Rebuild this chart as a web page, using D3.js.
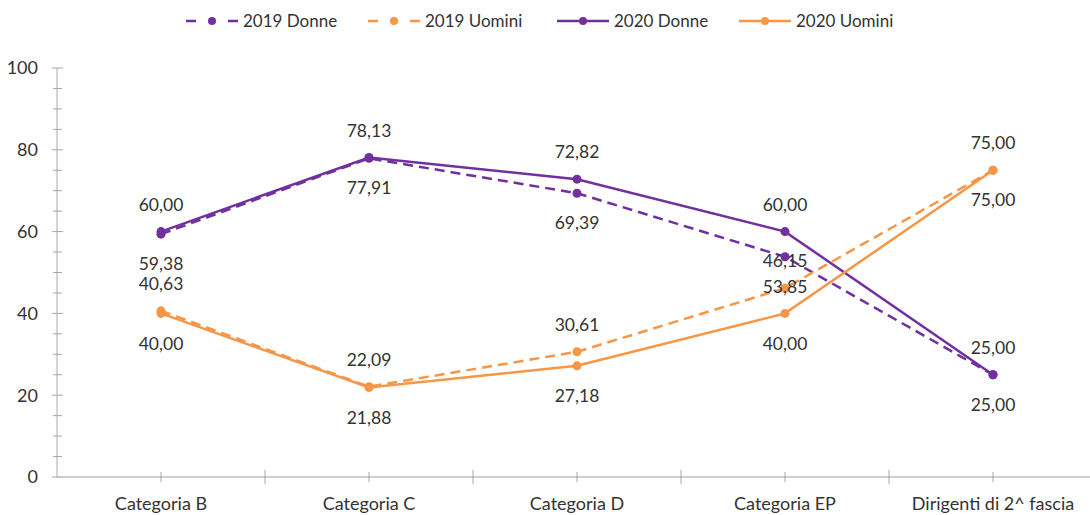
<!DOCTYPE html>
<html>
  <head>
    <meta charset="utf-8">
    <title>Donne e Uomini per categoria</title>
    <script src="https://cdn.jsdelivr.net/npm/d3@7"></script>
    <style>
      body { margin: 0; background: #fff; }
      text { font-family: 'Lato', sans-serif; fill: #333; }
      .axis text { font-size: 18px; }
      .label { font-size: 17.5px; text-anchor: middle; }
      .legend text { font-size: 17px; }
    </style>
  </head>
  <body>
    <script>

      // data
      var categories = ["Categoria B", "Categoria C", "Categoria D", "Categoria EP", "Dirigenti di 2^ fascia"];
      var donne2019  = [59.38, 77.91, 69.39, 53.85, 25.00];
      var uomini2019 = [40.63, 22.09, 30.61, 46.15, 75.00];
      var donne2020  = [60.00, 78.13, 72.82, 60.00, 25.00];
      var uomini2020 = [40.00, 21.88, 27.18, 40.00, 75.00];
      var yTicks = [0, 20, 40, 60, 80, 100];

      var series = [
        { name: "2019 Donne",  values: donne2019,  color: "#7030a0", dashed: true,  labelPos: "below" },
        { name: "2019 Uomini", values: uomini2019, color: "#f79646", dashed: true,  labelPos: "above" },
        { name: "2020 Donne",  values: donne2020,  color: "#7030a0", dashed: false, labelPos: "above" },
        { name: "2020 Uomini", values: uomini2020, color: "#f79646", dashed: false, labelPos: "below" }
      ];

      var width = 1090, height = 515;
      var axisX = 57, axisY = 477, topY = 68;
      var bandW = 208;

      var svg = d3.select("body").append("svg")
        .attr("width", width)
        .attr("height", height);

      var xScale = d3.scaleBand()
        .domain(categories)
        .range([axisX, axisX + bandW * categories.length]);
      var yScale = d3.scaleLinear()
        .domain([0, 100])
        .range([axisY, topY]);

      function cx(i) { return xScale(categories[i]) + xScale.bandwidth() / 2; }

      // y axis
      var yAxisG = svg.append("g").attr("class", "axis");
      yAxisG.append("line")
        .attr("x1", axisX).attr("x2", axisX)
        .attr("y1", yScale(100)).attr("y2", axisY)
        .attr("stroke", "#bfbfbf").attr("stroke-width", 1.3);
      yAxisG.selectAll(".minor").data(d3.range(5, 100, 5).filter(function(v) { return v % 20; }))
        .enter().append("line")
        .attr("x1", axisX - 4).attr("x2", axisX + 5)
        .attr("y1", function(d) { return yScale(d); })
        .attr("y2", function(d) { return yScale(d); })
        .attr("stroke", "#a6a6a6");
      yAxisG.selectAll(".major").data(yTicks)
        .enter().append("line")
        .attr("x1", axisX - 5).attr("x2", axisX + 6)
        .attr("y1", function(d) { return yScale(d); })
        .attr("y2", function(d) { return yScale(d); })
        .attr("stroke", "#a6a6a6");
      yAxisG.selectAll("text").data(yTicks)
        .enter().append("text")
        .attr("x", 38)
        .attr("y", function(d) { return yScale(d); })
        .attr("dy", "0.35em")
        .attr("text-anchor", "end")
        .text(function(d) { return d; });

      // x axis
      var xAxisG = svg.append("g").attr("class", "axis");
      xAxisG.append("line")
        .attr("x1", axisX).attr("x2", width)
        .attr("y1", axisY).attr("y2", axisY)
        .attr("stroke", "#bfbfbf").attr("stroke-width", 1.3);
      xAxisG.selectAll(".bound").data(categories)
        .enter().append("line")
        .attr("x1", function(d) { return xScale(d) + xScale.bandwidth(); })
        .attr("x2", function(d) { return xScale(d) + xScale.bandwidth(); })
        .attr("y1", axisY - 7).attr("y2", axisY + 7)
        .attr("stroke", "#a6a6a6");
      xAxisG.selectAll(".mid").data(categories)
        .enter().append("line")
        .attr("x1", function(d, i) { return cx(i); })
        .attr("x2", function(d, i) { return cx(i); })
        .attr("y1", axisY - 5).attr("y2", axisY + 5)
        .attr("stroke", "#a6a6a6");
      xAxisG.selectAll("text").data(categories)
        .enter().append("text")
        .attr("x", function(d, i) { return cx(i); })
        .attr("y", 504)
        .attr("dy", "0.35em")
        .attr("text-anchor", "middle")
        .text(function(d) { return d; });

      // lines and points
      var line = d3.line()
        .x(function(d, i) { return cx(i); })
        .y(function(d) { return yScale(d); });

      var chart = svg.append("g");
      series.forEach(function(s) {
        var g = chart.append("g");
        g.append("path")
          .attr("d", line(s.values))
          .attr("fill", "none")
          .attr("stroke", s.color)
          .attr("stroke-width", 2.5)
          .attr("stroke-dasharray", s.dashed ? "10,6" : null);
        g.selectAll("circle").data(s.values)
          .enter().append("circle")
          .attr("cx", function(d, i) { return cx(i); })
          .attr("cy", function(d) { return yScale(d); })
          .attr("r", 4.5)
          .attr("fill", s.color);
      });

      // data labels
      var fmt = function(v) { return d3.format(".2f")(v).replace(".", ","); };
      series.forEach(function(s) {
        chart.append("g").selectAll("text").data(s.values)
          .enter().append("text")
          .attr("class", "label")
          .attr("x", function(d, i) { return cx(i); })
          .attr("y", function(d) { return yScale(d) + (s.labelPos === "above" ? -27 : 30); })
          .attr("dy", "0.35em")
          .text(fmt);
      });

      // legend
      var legendX = [186, 368, 557, 739];
      var legend = svg.append("g").attr("class", "legend");
      series.forEach(function(s, i) {
        var g = legend.append("g").attr("transform", "translate(" + legendX[i] + ",21)");
        g.append("line")
          .attr("x1", 0).attr("x2", 52)
          .attr("stroke", s.color)
          .attr("stroke-width", 2.5)
          .attr("stroke-dasharray", s.dashed ? "10,32" : null);
        g.append("circle")
          .attr("cx", 26).attr("r", 4)
          .attr("fill", s.color);
        g.append("text")
          .attr("x", 57)
          .attr("dy", "0.35em")
          .text(s.name);
      });

    </script>
  </body>
</html>
